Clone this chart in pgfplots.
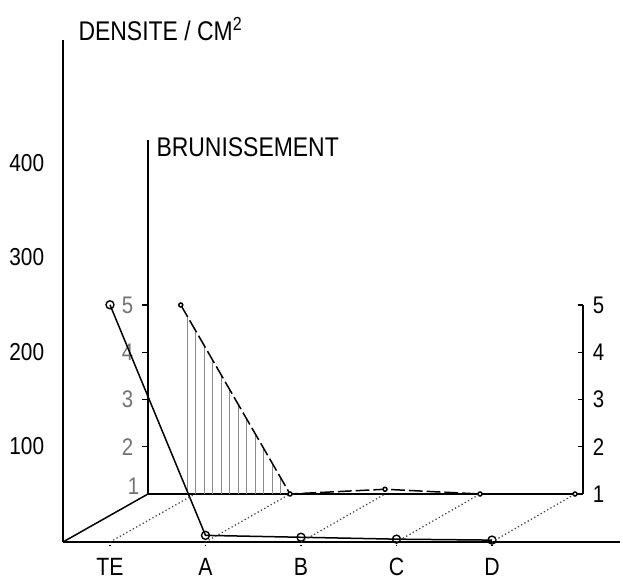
\documentclass[border=0pt]{standalone}
\usepackage{pgfplots}
\pgfplotsset{compat=1.18}
\usetikzlibrary{patterns.meta}
\usepackage{fontspec}
\setmainfont{Liberation Sans}[FakeStretch=0.85]

\begin{document}
\begin{tikzpicture}
\path[use as bounding box] (0,0) rectangle (249.2pt,232pt);

% back plane (Brunissement)
\begin{axis}[
  at={(59.2pt,34.4pt)}, anchor=south west, scale only axis,
  x=38pt, y=18.9pt,
  xmin=-0.495, xmax=4.084, ymin=1, ymax=8.49,
  clip=false,
  axis x line=bottom, axis y line=left,
  axis line style={-, line width=0.6pt},
  xtick=\empty,
  ytick={2,3,4,5},
  extra y ticks={1},
  extra y tick style={major tick length=0pt, yticklabel style={yshift=3pt}},
  tick align=outside, major tick length=2.4pt,
  tick style={line width=0.45pt, black},
  /pgf/number format/assume math mode=true,
  yticklabel style={font=\fontsize{9.6}{11}\selectfont, text=black!55},
]
\addplot[draw=none, pattern={Lines[angle=90,distance=3.4pt,line width=0.4pt]}, pattern color=black!45]
  coordinates {(-0.15,5) (1,1)} \closedcycle;
\addplot[black, line width=0.6pt, dash pattern=on 5.5pt off 1.6pt, mark=*, mark size=0.8pt,
  mark options={solid, fill=white}]
  coordinates {(-0.15,5) (1,1) (2,1.1) (3,1) (4,1)};
\node[anchor=base west, font=\fontsize{10.8}{12}\selectfont, inner sep=0pt]
  at (rel axis cs:0,1) [xshift=3.2pt, yshift=-6.4pt] {BRUNISSEMENT};
\coordinate (bO) at (axis cs:-0.495,1);
\coordinate (b0) at (axis cs:0,1);
\coordinate (b1) at (axis cs:1,1);
\coordinate (b2) at (axis cs:2,1);
\coordinate (b3) at (axis cs:3,1);
\coordinate (b4) at (axis cs:4,1);
\end{axis}

% right scale of the back plane
\begin{axis}[
  at={(59.2pt,34.4pt)}, anchor=south west, scale only axis,
  x=38pt, y=18.9pt,
  xmin=-0.495, xmax=4.084, ymin=1, ymax=5,
  axis x line=none, axis y line=right,
  axis line style={-, line width=0.6pt},
  xtick=\empty, ytick={1,2,3,4,5},
  tick align=inside, major tick length=2pt,
  tick style={line width=0.45pt, black},
  /pgf/number format/assume math mode=true,
  yticklabel style={font=\fontsize{9.6}{11}\selectfont, xshift=0.4pt},
]
\addplot[draw=none] coordinates {(0,1)};
\end{axis}

% front plane (Densite / cm2)
\begin{axis}[
  at={(25.2pt,15.2pt)}, anchor=south west, scale only axis,
  x=38.2pt, y=0.378pt,
  xmin=-0.492, xmax=5.34, ymin=-1, ymax=530,
  clip=false,
  axis lines=left,
  axis line style={-, line width=0.6pt},
  xtick={0,1,2,3,4}, xticklabels={TE,A,B,C,D},
  ytick={100,200,300,400},
  ytick style={draw=none},
  xtick style={densely dotted, line width=0.55pt, black},
  tick align=outside, major tick length=1.6pt,
  /pgf/number format/assume math mode=true,
  yticklabel style={font=\fontsize{9.8}{11}\selectfont, xshift=-2.4pt},
  xticklabel style={font=\fontsize{10}{11}\selectfont, yshift=-1.2pt},
]
\addplot[black, line width=0.6pt, mark=o, mark size=1.6pt, mark options={fill=white, line width=0.55pt}]
  coordinates {(0,250) (1,6) (2,4) (3,2) (4,1)};
\node[anchor=base west, font=\fontsize{10.8}{12}\selectfont, inner sep=0pt]
  at (rel axis cs:0,1) [xshift=6pt] {DENSITE / CM\textsuperscript{2}};
\coordinate (fO) at (axis cs:-0.492,-1);
\coordinate (f0) at (axis cs:0,-1);
\coordinate (f1) at (axis cs:1,-1);
\coordinate (f2) at (axis cs:2,-1);
\coordinate (f3) at (axis cs:3,-1);
\coordinate (f4) at (axis cs:4,-1);
\end{axis}

\draw[line width=0.6pt] (fO) -- (bO);
\draw[densely dotted, line width=0.5pt, black!75] (f0) -- (b0);
\draw[densely dotted, line width=0.5pt, black!75] (f1) -- (b1);
\draw[densely dotted, line width=0.5pt, black!75] (f2) -- (b2);
\draw[densely dotted, line width=0.5pt, black!75] (f3) -- (b3);
\draw[densely dotted, line width=0.5pt, black!75] (f4) -- (b4);
\end{tikzpicture}
\end{document}
